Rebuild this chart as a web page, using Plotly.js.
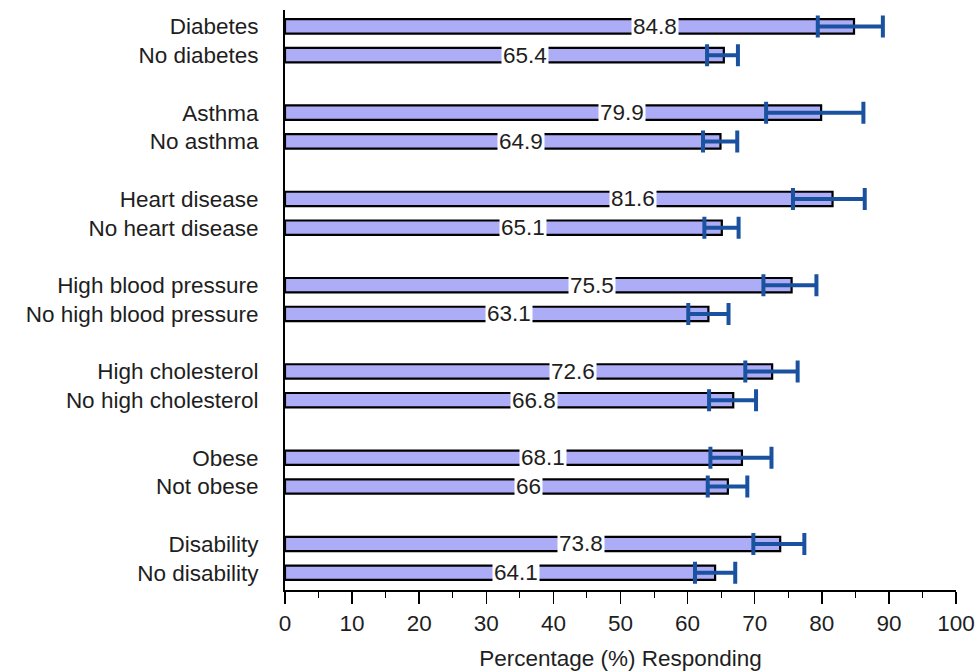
<!DOCTYPE html>
<html>
<head>
<meta charset="utf-8">
<script src="https://cdn.plot.ly/plotly-3.0.1.min.js"></script>
<style>html,body{margin:0;padding:0;background:#fff;}#chart{width:979px;height:671px;}</style>
</head>
<body>
<div id="chart"></div>
<script>
const categories = ["Diabetes","No diabetes","Asthma","No asthma","Heart disease","No heart disease",
  "High blood pressure","No high blood pressure","High cholesterol","No high cholesterol",
  "Obese","Not obese","Disability","No disability"];
const values = [84.8,65.4,79.9,64.9,81.6,65.1,75.5,63.1,72.6,66.8,68.1,66,73.8,64.1];
const lowerCI = [79.4,62.9,71.7,62.3,75.7,62.5,71.3,60.1,68.6,63.2,63.4,63.0,69.8,61.1];
const upperCI = [89.1,67.5,86.2,67.4,86.4,67.6,79.2,66.1,76.4,70.2,72.5,68.9,77.4,67.1];
const xTicks = [0,10,20,30,40,50,60,70,80,90,100];

// slot index: pairs separated by an empty slot
const pos = categories.map((c,i)=> Math.floor(i/2)*3 + (i%2));
const labelOffset = 29.7;

const trace = {
  type:'bar', orientation:'h',
  x: values, y: pos, width: 0.5,
  marker:{color:'#ADADF7', line:{color:'#000', width:2.2}},
  error_x:{type:'data', symmetric:false,
    array: values.map((v,i)=>+(upperCI[i]-v).toFixed(2)),
    arrayminus: values.map((v,i)=>+(v-lowerCI[i]).toFixed(2)),
    color:'#1A52A0', thickness:4, width:11},
  hoverinfo:'none'
};

const annotations = values.map((v,i)=>({
  x: v - labelOffset, y: pos[i], xref:'x', yref:'y',
  text: String(v), showarrow:false, bgcolor:'#fff', borderpad:1,
  font:{family:'Liberation Sans, Arial, sans-serif', size:22.5, color:'#1e1e1e'}
}));

const layout = {
  width:979, height:671,
  margin:{l:285, r:23, t:10, b:81},
  paper_bgcolor:'#fff', plot_bgcolor:'#fff',
  showlegend:false,
  font:{family:'Liberation Sans, Arial, sans-serif', size:22, color:'#1e1e1e'},
  xaxis:{range:[0,100], tickvals:xTicks, ticktext:xTicks.map(String),
    showgrid:false, zeroline:false, showline:true, linecolor:'#000', linewidth:2,
    ticks:'outside', ticklen:12, tickwidth:1.5, tickcolor:'#000',
    minor:{dtick:5, tick0:0, ticks:'outside', ticklen:6, tickwidth:1, tickcolor:'#000'},
    tickfont:{size:22.5, color:'#1e1e1e'},
    title:{text:'Percentage (%) Responding', font:{size:22.5, color:'#1e1e1e'}, standoff:16}},
  yaxis:{range:[19.6,-0.57], tickvals:pos, ticktext:categories,
    showgrid:false, zeroline:false, showline:true, linecolor:'#000', linewidth:2,
    ticks:'', ticklabelstandoff:20, tickfont:{size:22.5, color:'#1e1e1e'}},
  annotations: annotations
};

Plotly.newPlot('chart',[trace],layout,{displayModeBar:false, staticPlot:true});
</script>
</body>
</html>
